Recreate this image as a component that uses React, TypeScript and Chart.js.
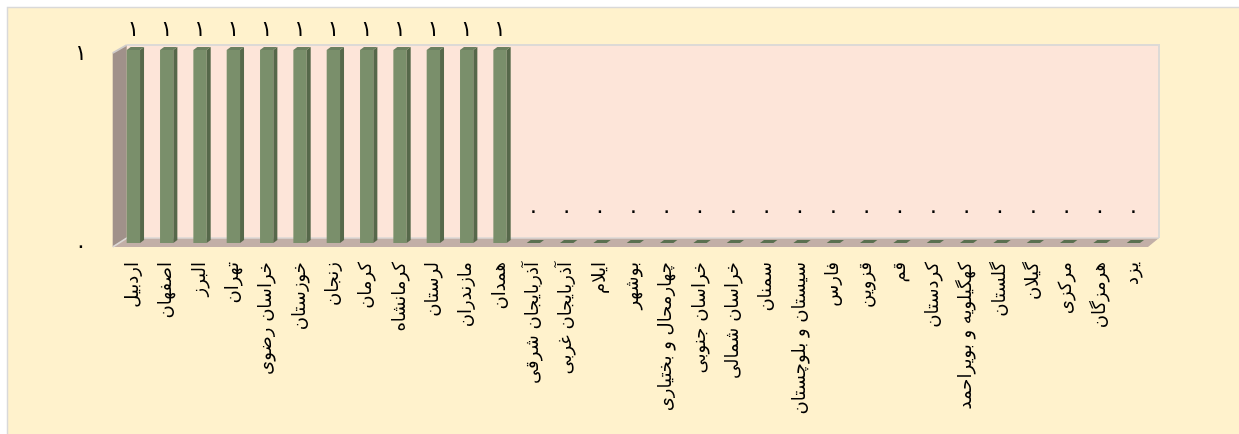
import React, { useEffect, useRef } from "react";
import { Chart, registerables } from "chart.js";

Chart.register(...registerables);

const provinces: string[] = [
  "اردبیل", "اصفهان", "البرز", "تهران", "خراسان رضوی", "خوزستان", "زنجان", "کرمان",
  "کرمانشاه", "لرستان", "مازندران", "همدان", "آذربایجان شرقی", "آذربایجان غربی", "ایلام",
  "بوشهر", "چهارمحال و بختیاری", "خراسان جنوبی", "خراسان شمالی", "سمنان", "سیستان و بلوچستان",
  "فارس", "قزوین", "قم", "کردستان", "کهگیلویه و بویراحمد", "گلستان", "گیلان", "مرکزی",
  "هرمزگان", "یزد",
];

const counts: number[] = [
  1, 1, 1, 1, 1, 1, 1, 1, 1, 1, 1, 1,
  0, 0, 0, 0, 0, 0, 0, 0, 0, 0, 0, 0, 0, 0, 0, 0, 0, 0, 0,
];

const yTicks: number[] = [0, 1];

const faDigits = "۰۱۲۳۴۵۶۷۸۹";
const toFa = (n: number) => String(n).replace(/\d/g, (d) => faDigits[Number(d)]);

const FONT = "'DejaVu Sans', sans-serif";

const scenePlugin = {
  id: "scene3d",
  beforeDraw(chart: any) {
    const { ctx, chartArea } = chart;
    const { left: L, right: R, top: T, bottom: B } = chartArea;
    ctx.save();
    ctx.fillStyle = "#FFF2CC";
    ctx.fillRect(8, 8, chart.width, chart.height);
    ctx.strokeStyle = "#D9D9D9";
    ctx.lineWidth = 1.5;
    ctx.beginPath();
    ctx.moveTo(7.5, chart.height + 5);
    ctx.lineTo(7.5, 7.5);
    ctx.lineTo(chart.width + 5, 7.5);
    ctx.stroke();
    // back wall
    ctx.fillStyle = "#FDE5D9";
    ctx.fillRect(L + 10, T - 5, R + 9 - (L + 10), B - 5 - (T - 5));
    ctx.strokeStyle = "#DDDAD6";
    ctx.lineWidth = 2;
    ctx.beginPath();
    ctx.moveTo(L + 10, T - 5);
    ctx.lineTo(R + 9, T - 5);
    ctx.lineTo(R + 9, B - 5);
    ctx.stroke();
    // left wall
    ctx.fillStyle = "#A0918A";
    ctx.beginPath();
    ctx.moveTo(L - 4, T + 3);
    ctx.lineTo(L + 10, T - 5);
    ctx.lineTo(L + 10, B - 5);
    ctx.lineTo(L - 4, B + 4);
    ctx.closePath();
    ctx.fill();
    ctx.strokeStyle = "#D0CCCA";
    ctx.beginPath();
    ctx.moveTo(L - 4, T + 3);
    ctx.lineTo(L + 10, T - 5);
    ctx.stroke();
    // floor
    ctx.fillStyle = "#C2AFA7";
    ctx.beginPath();
    ctx.moveTo(L - 4, B + 4);
    ctx.lineTo(L + 10, B - 5);
    ctx.lineTo(R + 9, B - 5);
    ctx.lineTo(R - 2, B + 4);
    ctx.closePath();
    ctx.fill();
    ctx.strokeStyle = "#DCD8D5";
    ctx.lineWidth = 1.5;
    ctx.beginPath();
    ctx.moveTo(L - 4, B + 4);
    ctx.lineTo(L + 10, B - 5);
    ctx.lineTo(R + 9, B - 5);
    ctx.stroke();
    ctx.restore();
  },
  afterDatasetsDraw(chart: any) {
    const { ctx } = chart;
    const meta = chart.getDatasetMeta(0);
    const data = chart.data.datasets[0].data as number[];
    const dx = 4;
    const dy = 3;
    ctx.save();
    meta.data.forEach((el: any, i: number) => {
      const { x, y, base, width } = el.getProps(["x", "y", "base", "width"], true);
      const l = x - width / 2;
      const r = x + width / 2;
      if (data[i] > 0) {
        ctx.fillStyle = "#56684A";
        ctx.beginPath();
        ctx.moveTo(r, y);
        ctx.lineTo(r + dx, y - dy);
        ctx.lineTo(r + dx, base - dy);
        ctx.lineTo(r, base);
        ctx.closePath();
        ctx.fill();
      }
      ctx.fillStyle = data[i] > 0 ? "#6B8060" : "#5A7050";
      ctx.beginPath();
      ctx.moveTo(l, y);
      ctx.lineTo(l + dx, y - dy);
      ctx.lineTo(r + dx, y - dy);
      ctx.lineTo(r, y);
      ctx.closePath();
      ctx.fill();
      ctx.fillStyle = "#000000";
      ctx.font = `22px ${FONT}`;
      ctx.textAlign = "center";
      ctx.textBaseline = "middle";
      ctx.fillText(toFa(data[i]), x, y - (data[i] > 0 ? 20 : 31));
    });
    ctx.restore();
  },
};

export default function App() {
  const ref = useRef<HTMLCanvasElement | null>(null);
  useEffect(() => {
    if (!ref.current) return;
    const chart = new Chart(ref.current, {
      type: "bar",
      data: {
        labels: provinces,
        datasets: [
          {
            data: counts,
            backgroundColor: "#7A8F6B",
            borderWidth: 0,
            categoryPercentage: 1,
            barPercentage: 0.4,
          },
        ],
      },
      options: {
        animation: false,
        responsive: false,
        maintainAspectRatio: false,
        layout: { padding: { left: 0, right: 89, top: 50, bottom: 0 } },
        plugins: {
          legend: { display: false },
          tooltip: { enabled: false },
        },
        scales: {
          x: {
            grid: { display: false, drawTicks: false },
            border: { display: false },
            ticks: {
              autoSkip: false,
              minRotation: 90,
              maxRotation: 90,
              padding: 19,
              color: "#000000",
              font: { family: FONT, size: 18 },
            },
            afterFit: (s: any) => {
              s.height = 191;
            },
          },
          y: {
            min: 0,
            max: 1,
            afterBuildTicks: (s: any) => {
              s.ticks = yTicks.map((v) => ({ value: v }));
            },
            grid: { display: false, drawTicks: false },
            border: { display: false },
            ticks: {
              padding: 30,
              labelOffset: 4,
              color: "#000000",
              font: { family: FONT, size: 22 },
              callback: (v: any) => toFa(Number(v)),
            },
            afterFit: (s: any) => {
              s.width = 116.7;
            },
          },
        },
      },
      plugins: [scenePlugin],
    });
    return () => chart.destroy();
  }, []);
  return (
    <div style={{ position: "fixed", left: 0, top: 0, width: 1239, height: 434 }}>
      <canvas ref={ref} width={1239} height={434} style={{ width: 1239, height: 434, display: "block" }} />
    </div>
  );
}
